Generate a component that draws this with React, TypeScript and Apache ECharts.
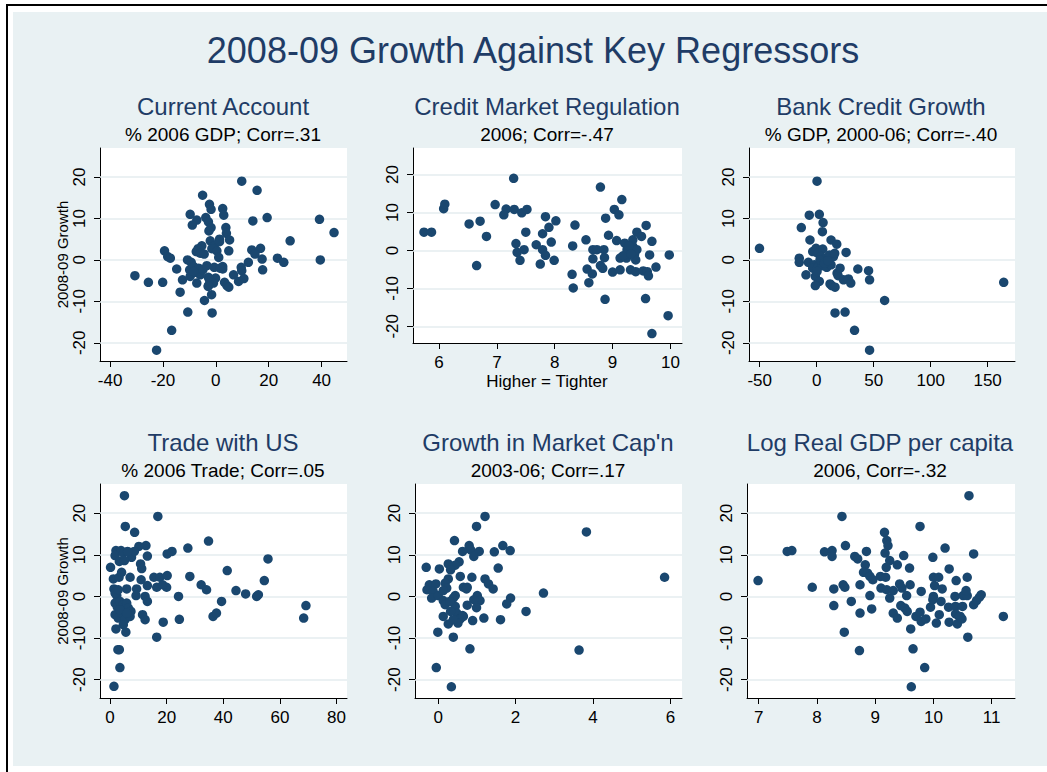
import React, { useEffect, useRef } from "react";
import * as echarts from "echarts";

const yTicks = [-20, -10, 0, 10, 20];

const currentAccount: number[][] = [
  [9.8, 19.0], [15.6, 16.8], [-5.0, 15.6], [-2.4, 13.4], [-1.8, 12.2], [2.6, 12.4], [3.0, 10.8], [-9.7, 11.0],
  [-3.8, 10.2], [-7.2, 9.6], [-8.9, 8.4], [-2.8, 9.2], [-1.8, 7.8], [-2.6, 7.0], [3.8, 7.8], [4.0, 6.4],
  [5.2, 4.8], [1.4, 5.0], [-2.1, 4.6], [-0.6, 3.4], [-1.5, 2.7], [-5.3, 3.4], [-6.7, 2.7], [-7.4, 2.0],
  [-5.9, 1.6], [-4.4, 1.4], [0.4, 2.2], [1.1, 0.6], [4.9, 2.2], [14.0, 9.4], [19.4, 10.2], [13.6, 2.4],
  [16.9, 2.8], [14.8, 1.4], [17.5, 0.2], [17.7, -2.4], [12.3, -0.6], [9.6, -1.8], [9.8, -2.6], [10.6, -4.5],
  [8.6, -5.2], [6.7, -3.6], [2.6, -1.6], [2.6, -2.2], [3.3, -5.4], [4.2, -6.2], [4.9, -6.6], [-0.1, -4.4],
  [-0.9, -5.6], [-2.4, -4.8], [-2.8, -6.2], [-1.6, -8.4], [-4.3, -9.8], [-1.4, -12.8], [-10.6, -12.6],
  [-16.7, -17.0], [-22.4, -21.8], [-30.6, -3.8], [-25.5, -5.4], [-20.1, -5.4], [-19.4, 2.2], [-18.2, 0.8],
  [-17.2, 0.4], [-14.8, -2.2], [-13.5, -7.8], [-12.6, -4.8], [-10.7, 0], [-9.3, -0.6], [-9.9, -2.4],
  [-9.7, -4.0], [-8.4, -1.6], [-7.8, -3.0], [-7.2, -5.6], [-6.5, -2.0], [-5.9, -3.6], [-4.9, -2.4],
  [-3.4, -1.4], [-2.8, -4.2], [-0.6, -1.8], [1.6, -2.0], [23.3, 0.4], [25.7, -0.6], [28.1, 4.6],
  [39.2, 9.8], [39.5, 0], [44.7, 6.6], [-2.9, -6.4], [-8.4, -2.8], [1.4, 4.4],
];

const creditRegulation: number[][] = [
  [5.74, 4.8], [5.87, 4.8], [6.08, 11.0], [6.10, 12.2], [6.52, 7.0], [6.71, 7.7], [6.82, 3.7], [6.65, -4.0],
  [6.97, 12.1], [7.16, 10.9], [7.12, 9.4], [7.29, 19.0], [7.30, 10.8], [7.43, 9.9], [7.52, 10.8], [7.50, 4.8],
  [7.33, 1.8], [7.35, -0.5], [7.40, -2.6], [7.47, 0.2], [7.68, 1.5], [7.79, 4.4], [7.84, 8.9], [7.90, 6.1],
  [7.94, 2.2], [7.79, 0.2], [7.84, -1.3], [7.75, -3.6], [7.99, -2.6], [8.02, 7.8], [8.35, 6.7], [8.31, 1.2],
  [8.30, -6.3], [8.32, -9.9], [8.54, 2.8], [8.56, -4.9], [8.59, -8.5], [8.65, -6.2], [8.66, -2.2], [8.66, 0.2],
  [8.73, 0.2], [8.79, 16.7], [8.79, -4.0], [8.83, -4.7], [8.85, 0.2], [8.86, -1.9], [8.88, 8.5], [8.87, -12.9],
  [8.93, 4.0], [9.00, -5.7], [9.03, 10.8], [9.11, 9.4], [9.16, 13.4], [9.07, 2.6], [9.13, -2.0], [9.13, -5.1],
  [9.21, 1.9], [9.25, 0.2], [9.24, -2.0], [9.31, -5.1], [9.35, 2.8], [9.35, 1.1], [9.38, -1.0], [9.40, -2.5],
  [9.42, 0.2], [9.42, 4.8], [9.40, -5.6], [9.50, 3.7], [9.53, -5.4], [9.58, 6.6], [9.57, -12.7], [9.60, -5.6],
  [9.64, -1.2], [9.62, -6.7], [9.68, 2.4], [9.68, -21.9], [9.75, -4.4], [9.96, -17.2], [9.98, -1.2],
  [9.28, 1.2], [9.18, -1.4], [9.32, -1.0],
];

const bankCredit: number[][] = [
  [-50.2, 2.8], [0.3, 19.0], [-6.5, 10.8], [2.3, 11.0], [5.6, 9.0], [5.0, 6.8], [-13.5, 7.8], [-5.9, 4.8],
  [12.6, 4.8], [17.6, 3.8], [25.8, 1.8], [-15.3, 0.4], [-15.3, -0.6], [-7.3, -0.6], [-9.4, -3.6], [-3.5, 2.0],
  [-0.6, 2.8], [0.9, 1.6], [5.3, 2.6], [3.8, 0.8], [7.6, 0.4], [11.2, 1.2], [14.7, 0.8], [15.8, 1.6],
  [-2.1, -1.2], [-3.5, -2.0], [0.9, -1.8], [4.7, -1.4], [8.8, -1.8], [12.6, -1.2], [-1.2, -4.0], [2.3, -5.2],
  [-1.2, -6.2], [11.7, -5.8], [13.2, -6.2], [16.1, -6.6], [17.9, -3.2], [18.8, -3.8], [20.5, -2.0],
  [23.5, -4.8], [27.9, -4.6], [29.9, -5.6], [36.1, -2.2], [45.5, -2.6], [46.4, -4.8], [59.6, -9.8],
  [16.1, -12.8], [24.9, -12.6], [33.2, -17.0], [46.4, -21.8], [164.1, -5.4], [2.9, 0], [6.8, -0.8],
  [9.7, -0.2], [0.3, -2.8],
];

const tradeUS: number[][] = [
  [5.1, 24.2], [5.4, 16.8], [8.7, 15.4], [16.9, 19.2], [34.8, 13.3], [27.5, 11.6], [12.7, 12.2], [10.2, 12.0],
  [2.1, 11.0], [3.9, 11.0], [1.8, 9.8], [4.7, 10.4], [7.6, 9.4], [13.2, 9.7], [8.6, 10.8], [6.2, 10.8],
  [20.2, 10.2], [21.9, 10.8], [0.2, 7.0], [3.3, 8.4], [5.1, 8.6], [10.8, 7.8], [11.2, 6.7], [41.4, 6.2],
  [55.8, 9.0], [1.2, 4.2], [3.2, 4.6], [4.1, 5.8], [7.1, 4.6], [11.0, 4.0], [15.5, 4.6], [17.6, 4.6],
  [20.2, 5.0], [28.2, 4.8], [54.5, 3.8], [1.4, 1.8], [5.9, 1.8], [9.4, 1.8], [13.2, 2.6], [16.5, 2.2],
  [20.0, 2.2], [18.6, 2.8], [32.2, 2.8], [34.1, 1.6], [44.5, 1.4], [47.9, 0.6], [51.8, 0], [52.4, 0.4],
  [24.2, 0], [39.4, -1.2], [69.2, -2.2], [68.4, -5.2], [36.4, -4.8], [37.6, -4.0], [24.5, -5.5], [18.8, -6.2],
  [16.5, -9.8], [9.2, 0.2], [12.4, 0], [13.2, -1.2], [11.5, -4.4], [12.4, -5.6], [2.4, 0.2], [1.8, -1.6],
  [2.6, -2.6], [3.5, -1.2], [4.7, -2.0], [5.9, -1.6], [6.5, -2.8], [1.8, -4.4], [2.9, -5.2], [4.1, -4.0],
  [5.3, -5.6], [7.1, -4.8], [7.4, -3.6], [4.7, -6.8], [2.1, -7.8], [5.6, -8.6], [2.8, -12.8], [3.5, -17.1],
  [1.4, -21.6], [3.3, -12.8], [3.5, -3.2], [5.9, -4.0], [1.8, 0.8], [2.9, 1.6],
];

const marketCap: number[][] = [
  [1.21, 19.2], [0.99, 16.8], [0.42, 13.4], [3.83, 15.5], [1.67, 12.2], [1.86, 11.0], [1.45, 10.7], [0.80, 12.2],
  [0.84, 11.2], [0.63, 10.8], [1.06, 10.8], [0.92, 9.6], [0.54, 8.3], [0.44, 7.5], [0.26, 7.8], [0.32, 6.4],
  [-0.31, 7.0], [0.03, 6.6], [1.55, 6.8], [5.85, 4.6], [0.57, 4.8], [0.87, 4.6], [1.21, 4.2], [0.26, 4.2],
  [0.18, 3.2], [-0.23, 2.8], [-0.06, 3.0], [1.30, 3.0], [1.42, 1.8], [0.22, 2.0], [-0.29, 1.6], [-0.13, 1.2],
  [-0.17, -0.4], [0, 0.2], [0.65, 2.2], [0.75, 2.2], [0.73, 1.8], [2.72, 0.8], [1.01, 0.2], [1.87, -0.4],
  [0.44, 0.2], [0.39, -0.4], [0.13, -1.0], [1.08, -1.0], [0.92, -0.8], [1.77, -1.8], [0.75, -2.1], [0.99, -2.7],
  [0.18, -2.0], [0.44, -2.4], [2.27, -3.6], [0.48, -4.0], [0.32, -3.6], [0.13, -4.8], [0.63, -4.6], [0.57, -5.4],
  [1.18, -5.2], [0.89, -5.8], [1.61, -5.6], [0.26, -6.6], [0.51, -6.4], [-0.01, -8.6], [0.39, -9.8],
  [0.82, -12.6], [3.64, -12.9], [-0.05, -17.1], [0.34, -21.7], [0.39, -5.6], [0.30, -1.2], [0.65, -4.8],
  [0.13, 1.4],
];

const logGdp: number[][] = [
  [6.99, 3.8], [7.49, 10.8], [7.57, 11.0], [7.92, 2.2], [8.13, 10.7], [8.26, 11.0], [8.26, 9.6], [8.29, 1.8],
  [8.29, -2.2], [8.43, 19.2], [8.49, 12.2], [8.45, 2.8], [8.48, 2.2], [8.47, -8.6], [8.59, -1.2], [8.65, 9.6],
  [8.70, 9.0], [8.74, 2.8], [8.74, -4.0], [8.73, -13.0], [8.85, 10.8], [8.83, 7.6], [8.80, 5.8], [8.87, 5.6],
  [8.91, 4.8], [8.96, 4.0], [8.91, 0.2], [8.94, -3.0], [9.09, 4.8], [9.10, 2.0], [9.16, 15.4], [9.20, 13.4],
  [9.22, 12.2], [9.17, 10.4], [9.25, 8.6], [9.19, 7.0], [9.18, 4.6], [9.20, 1.6], [9.25, -0.4], [9.31, 1.4],
  [9.31, -4.0], [9.38, 7.6], [9.38, -5.2], [9.42, 3.0], [9.46, 2.0], [9.44, -2.2], [9.49, 9.8], [9.51, -2.8],
  [9.54, 0.2], [9.55, -3.6], [9.59, 6.8], [9.60, 2.8], [9.61, -7.8], [9.65, -12.6], [9.62, -21.7], [9.77, 16.8],
  [9.79, 1.2], [9.70, -4.8], [9.77, -3.8], [9.79, -6.0], [9.87, -5.4], [9.85, -17.1], [9.95, -2.6], [10.0, 0],
  [9.99, -0.8], [9.99, 9.4], [10.0, 4.6], [10.02, 2.6], [10.09, 4.6], [10.05, -6.4], [10.10, -4.4],
  [10.13, -1.2], [10.15, 1.8], [10.2, 11.6], [10.26, -2.6], [10.27, 6.6], [10.27, -6.2], [10.37, 0],
  [10.39, 3.8], [10.38, -2.4], [10.38, -4.2], [10.41, -6.6], [10.44, -4.8], [10.49, -5.4], [10.50, -2.4],
  [10.51, 0.2], [10.58, 4.6], [10.58, 0.2], [10.61, 24.2], [10.59, -9.8], [10.69, 10.2], [10.69, -2.0],
  [10.74, -1.0], [10.79, -0.2], [10.82, 0.4], [11.20, -4.8], [10.56, 1.4], [10.46, -4.8],
];

const panelTitles = [
  "Current Account",
  "Credit Market Regulation",
  "Bank Credit Growth",
  "Trade with US",
  "Growth in Market Cap'n",
  "Log Real GDP per capita",
];
const panelSubtitles = [
  "% 2006 GDP; Corr=.31",
  "2006; Corr=-.47",
  "% GDP, 2000-06; Corr=-.40",
  "% 2006 Trade; Corr=.05",
  "2003-06; Corr=.17",
  "2006, Corr=-.32",
];
const xTickSets = [
  [-40, -20, 0, 20, 40],
  [6, 7, 8, 9, 10],
  [-50, 0, 50, 100, 150],
  [0, 20, 40, 60, 80],
  [0, 2, 4, 6],
  [7, 8, 9, 10, 11],
];
const panelData = [currentAccount, creditRegulation, bankCredit, tradeUS, marketCap, logGdp];

const FONT = '"Liberation Sans", Arial, Helvetica, sans-serif';
const NAVY = "#1a476f";
const TITLE = "#1f3c66";

const layout = [
  { grid: { left: 100, top: 148, width: 247, height: 213 }, xMin: -43.8, xMax: 49.6, cx: 223, row: 0 },
  { grid: { left: 413, top: 148, width: 269, height: 195 }, xMin: 5.55, xMax: 10.2, cx: 547, row: 0 },
  { grid: { left: 749, top: 148, width: 266, height: 213 }, xMin: -59.4, xMax: 174, cx: 881, row: 0 },
  { grid: { left: 100, top: 484, width: 247, height: 214 }, xMin: -3.53, xMax: 83.7, cx: 223, row: 1 },
  { grid: { left: 415, top: 484, width: 267, height: 214 }, xMin: -0.6, xMax: 6.3, cx: 548, row: 1 },
  { grid: { left: 747, top: 484, width: 268, height: 214 }, xMin: 6.8, xMax: 11.4, cx: 880, row: 1 },
];

function textEl(text: string, x: number, y: number, size: number, fill: string, rotation = 0) {
  return {
    type: "text",
    x,
    y,
    rotation,
    style: {
      text,
      fill,
      fontSize: size,
      fontFamily: FONT,
      align: "center",
      verticalAlign: "middle",
      textAlign: "center",
      textVerticalAlign: "middle",
    },
  };
}

export default function App() {
  const ref = useRef<HTMLDivElement>(null);
  useEffect(() => {
    if (!ref.current) return;
    const chart = echarts.init(ref.current, null, { renderer: "svg" });
    const axisLineStyle = { color: "#000", width: 1 };
    const grids = layout.map((l) => ({
      ...l.grid,
      show: true,
      backgroundColor: "#ffffff",
      borderWidth: 0,
      containLabel: false,
    }));
    const xAxes = layout.map((l, i) => ({
      type: "value",
      gridIndex: i,
      min: l.xMin,
      max: l.xMax,
      axisLine: { show: true, onZero: false, lineStyle: axisLineStyle },
      axisTick: { show: true, length: 6, lineStyle: axisLineStyle, customValues: xTickSets[i] },
      axisLabel: { color: "#000", fontSize: 17, fontFamily: FONT, margin: 11, customValues: xTickSets[i] },
      splitLine: { show: false },
    }));
    const yAxes = layout.map((l, i) => ({
      type: "value",
      gridIndex: i,
      min: -24.4,
      max: 27.0,
      axisLine: { show: true, onZero: false, lineStyle: axisLineStyle },
      axisTick: { show: true, length: 6, lineStyle: axisLineStyle, customValues: yTicks },
      axisLabel: { color: "#000", fontSize: 17, fontFamily: FONT, margin: 12, rotate: 90, customValues: yTicks },
      splitLine: { show: false },
    }));
    const series = panelData.map((d, i) => ({
      type: "scatter",
      xAxisIndex: i,
      yAxisIndex: i,
      data: d,
      symbol: "circle",
      symbolSize: 9.5,
      itemStyle: { color: NAVY, opacity: 1 },
      z: 3,
      markLine: {
        silent: true,
        symbol: "none",
        z: 1,
        label: { show: false },
        lineStyle: { color: "#e5edef", width: 1.5, type: "solid" },
        data: yTicks.map((v) => ({ yAxis: v })),
      },
    }));
    const graphics: any[] = [
      textEl("2008-09 Growth Against Key Regressors", 533, 50, 36, TITLE),
    ];
    layout.forEach((l, i) => {
      const off = l.row * 336;
      graphics.push(textEl(panelTitles[i], l.cx, 106 + off, 24, TITLE));
      graphics.push(textEl(panelSubtitles[i], l.cx, 134 + off, 19, "#000"));
    });
    graphics.push(textEl("2008-09 Growth", 62, 254.5, 15, "#000", Math.PI / 2));
    graphics.push(textEl("2008-09 Growth", 62, 591, 15, "#000", Math.PI / 2));
    graphics.push(textEl("Higher = Tighter", 547, 381, 17, "#000"));

    chart.setOption({
      animation: false,
      backgroundColor: "transparent",
      grid: grids,
      xAxis: xAxes,
      yAxis: yAxes,
      series,
      graphic: { elements: graphics },
    });
    return () => chart.dispose();
  }, []);

  return (
    <div style={{ position: "absolute", left: 0, top: 0, width: 1047, height: 772, background: "#ffffff", overflow: "hidden" }}>
      <div style={{ position: "absolute", left: 6, top: 4, width: 1100, height: 900, border: "2px solid #000", boxSizing: "border-box" }} />
      <div style={{ position: "absolute", left: 13, top: 12, width: 1034, height: 754, background: "#e9f1f3" }} />
      <div ref={ref} style={{ position: "absolute", left: 0, top: 0, width: 1047, height: 772 }} />
    </div>
  );
}
